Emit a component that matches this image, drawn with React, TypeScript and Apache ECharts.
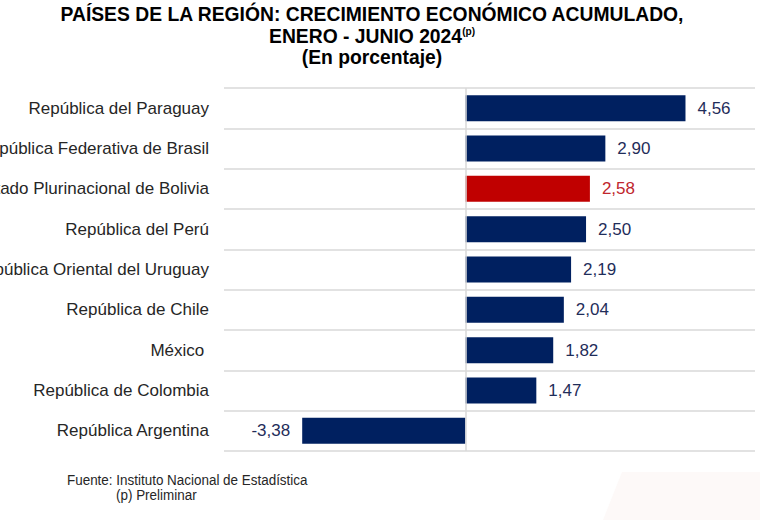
import React, { useEffect, useRef } from "react";
import * as echarts from "echarts";

const categories = [
  "República del Paraguay",
  "República Federativa de Brasil",
  "Estado Plurinacional de Bolivia",
  "República del Perú",
  "República Oriental del Uruguay",
  "República de Chile",
  "México ",
  "República de Colombia",
  "República Argentina",
];
const values = [4.56, 2.9, 2.58, 2.5, 2.19, 2.04, 1.82, 1.47, -3.38];
const highlighted = "Estado Plurinacional de Bolivia";

const titleLine1 = "PAÍSES DE LA REGIÓN: CRECIMIENTO ECONÓMICO ACUMULADO,";
const titleLine2 = "ENERO - JUNIO 2024";
const titleSup = "(p)";
const titleLine3 = "(En porcentaje)";
const sourceText = "Fuente: Instituto Nacional de Estadística";
const noteText = "(p) Preliminar";

const NAVY = "#002060";
const RED = "#C00000";
const fmt = (v: number) => v.toFixed(2).replace(".", ",");

export default function App() {
  const ref = useRef<HTMLDivElement>(null);
  useEffect(() => {
    document.body.style.margin = "0";
    const chart = echarts.init(ref.current!, null, { renderer: "svg" });
    const font = "'Liberation Sans', Arial, sans-serif";
    chart.setOption({
      animation: false,
      backgroundColor: "#ffffff",
      grid: {
        left: 224,
        right: 5,
        top: 88,
        bottom: 69,
        containLabel: false,
        outerBoundsMode: "none",
      },
      xAxis: {
        type: "value",
        min: -5,
        max: 6,
        show: false,
        splitLine: { show: false },
      },
      yAxis: {
        type: "category",
        inverse: true,
        data: categories,
        axisLine: { show: false },
        axisTick: { show: false },
        axisLabel: {
          margin: 15,
          color: "#262626",
          fontSize: 17,
          fontFamily: font,
        },
        splitLine: { show: true, lineStyle: { color: "#d9d9d9", width: 1.5 } },
      },
      graphic: [
        {
          type: "polygon",
          silent: true,
          z: -10,
          shape: { points: [[603, 520], [622, 472], [760, 472], [760, 520]] },
          style: { fill: "#fdf9f8" },
        },
        {
          type: "text",
          x: 372,
          y: 14,
          scaleX: 0.92,
          style: {
            text: titleLine1,
            font: `bold 21px ${font}`,
            fill: "#000000",
            align: "center",
            verticalAlign: "middle",
          },
        },
        {
          type: "text",
          x: 372,
          y: 36,
          scaleX: 0.92,
          style: {
            text: `{b|${titleLine2}}{s|${titleSup}}`,
            align: "center",
            verticalAlign: "middle",
            rich: {
              b: { font: `bold 21px ${font}`, fill: "#000000" },
              s: { font: `bold 11px ${font}`, fill: "#000000", verticalAlign: "top", padding: [0, 0, 10, 0] },
            },
          },
        },
        {
          type: "text",
          x: 372,
          y: 57,
          scaleX: 0.92,
          style: {
            text: titleLine3,
            font: `bold 21px ${font}`,
            fill: "#000000",
            align: "center",
            verticalAlign: "middle",
          },
        },
        {
          type: "text",
          x: 67,
          y: 480,
          scaleX: 0.96,
          style: {
            text: sourceText,
            font: `14px ${font}`,
            fill: "#262626",
            align: "left",
            verticalAlign: "middle",
          },
        },
        {
          type: "text",
          x: 116,
          y: 495,
          scaleX: 0.96,
          style: {
            text: noteText,
            font: `14px ${font}`,
            fill: "#262626",
            align: "left",
            verticalAlign: "middle",
          },
        },
      ],
      series: [
        {
          type: "bar",
          barWidth: 26,
          data: values.map((v, i) => {
            const isHi = categories[i] === highlighted;
            return {
              value: v,
              itemStyle: { color: isHi ? RED : NAVY },
              label: {
                show: true,
                position: v < 0 ? "left" : "right",
                distance: 12,
                formatter: () => fmt(v),
                color: isHi ? "#C0262D" : "#1F2D5A",
                fontSize: 17,
                fontFamily: font,
              },
            };
          }),
          markLine: {
            silent: true,
            symbol: "none",
            label: { show: false },
            lineStyle: { color: "#d9d9d9", width: 1.5, type: "solid" },
            data: [{ xAxis: 0 }],
          },
        },
      ],
    });
    return () => chart.dispose();
  }, []);
  return <div ref={ref} style={{ width: 760, height: 520 }} />;
}
